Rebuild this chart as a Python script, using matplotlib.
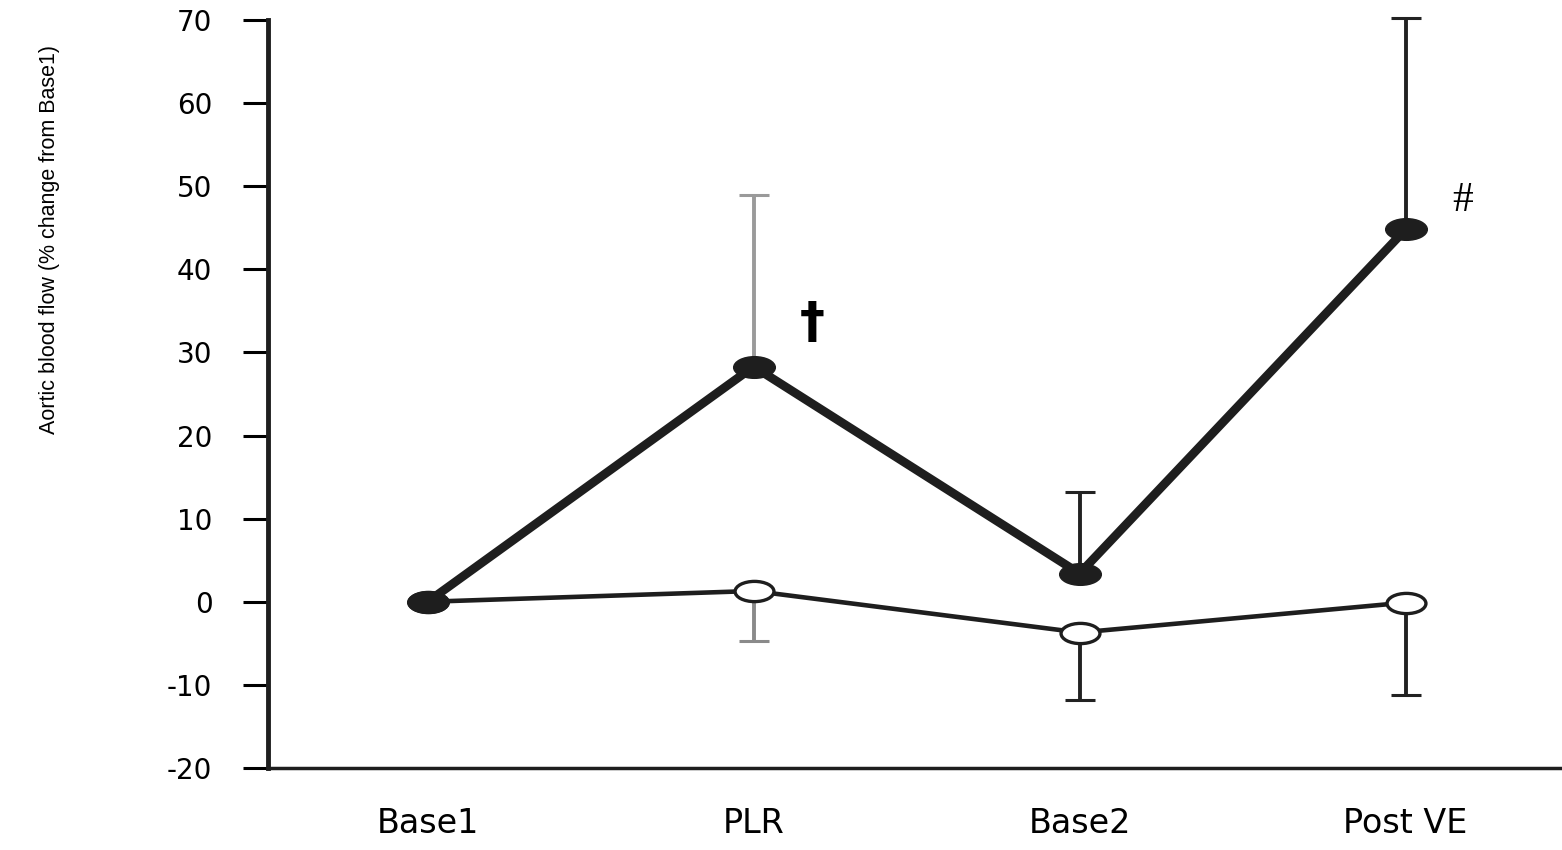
import matplotlib
matplotlib.use("Agg")
import matplotlib.pyplot as plt
import numpy as np
from matplotlib.path import Path
from matplotlib.transforms import Affine2D

categories = ["Base1", "PLR", "Base2", "Post VE"]
responders_mean = [0.0, 28.3, 3.4, 44.8]
responders_err_up = [0.0, 20.7, 9.8, 25.5]
nonresp_mean = [0.0, 1.3, -3.7, -0.1]
nonresp_err_down = [0.0, 6.0, 8.1, 11.1]
yticks = [-20, -10, 0, 10, 20, 30, 40, 50, 60, 70]

ellipse = Path.unit_circle().transformed(Affine2D().scale(1.0, 0.52))

fig = plt.figure(figsize=(15.62, 8.5), dpi=100)
ax = fig.add_axes([268/1562, 1-768/850, 1-268/1562, (768-20)/850])
x = np.arange(len(categories))

# error bars
resp_colors = ["#222222", "#9a9a9a", "#222222", "#222222"]
non_colors = ["#222222", "#8a8a8a", "#222222", "#222222"]
for i in range(1, len(categories)):
    ax.errorbar(x[i], responders_mean[i], yerr=[[0], [responders_err_up[i]]],
                fmt="none", ecolor=resp_colors[i], elinewidth=2.8, capsize=11,
                capthick=2.2, zorder=2, clip_on=False)
    ax.errorbar(x[i], nonresp_mean[i], yerr=[[nonresp_err_down[i]], [0]],
                fmt="none", ecolor=non_colors[i], elinewidth=2.8, capsize=11,
                capthick=2.2, zorder=2, clip_on=False)

ax.plot(x, nonresp_mean, color="#1e1e1e", lw=3.3, marker=ellipse, ms=28,
        mfc="white", mec="#1e1e1e", mew=2.4, zorder=3, clip_on=False)
ax.plot(x, responders_mean, color="#1e1e1e", lw=6.3, marker=ellipse, ms=30,
        mfc="#1e1e1e", mec="#1e1e1e", zorder=4, clip_on=False)

ax.text(x[1] + 0.18, 33.5, "†", fontsize=36, fontweight="bold", ha="center",
        va="center", color="black")
ax.text(x[3] + 0.175, 48.3, "#", fontsize=30, ha="center", va="center",
        color="black", family="Liberation Serif")

ax.set_xlim(-0.49, 3.48)
ax.set_ylim(-20, 70)
ax.set_yticks(yticks)
ax.set_yticklabels([str(v) for v in yticks], fontsize=20, family="DejaVu Sans")
ax.set_xticks(x)
ax.set_xticklabels(categories, fontsize=24, family="DejaVu Sans")
ax.tick_params(axis="x", length=0, pad=28)
ax.tick_params(axis="y", length=18, width=2.2, pad=22, direction="out")
for s in ["top", "right"]:
    ax.spines[s].set_visible(False)
ax.spines["left"].set_linewidth(3.5)
ax.spines["bottom"].set_linewidth(2.5)
ax.spines["left"].set_color("#1e1e1e")
ax.spines["bottom"].set_color("#1e1e1e")

fig.text(50/1562, 1-240/850, "Aortic blood flow (% change from Base1)",
         rotation=90, ha="center", va="center", fontsize=15.5,
         family="Liberation Sans")

fig.savefig("out.png", dpi=100)
